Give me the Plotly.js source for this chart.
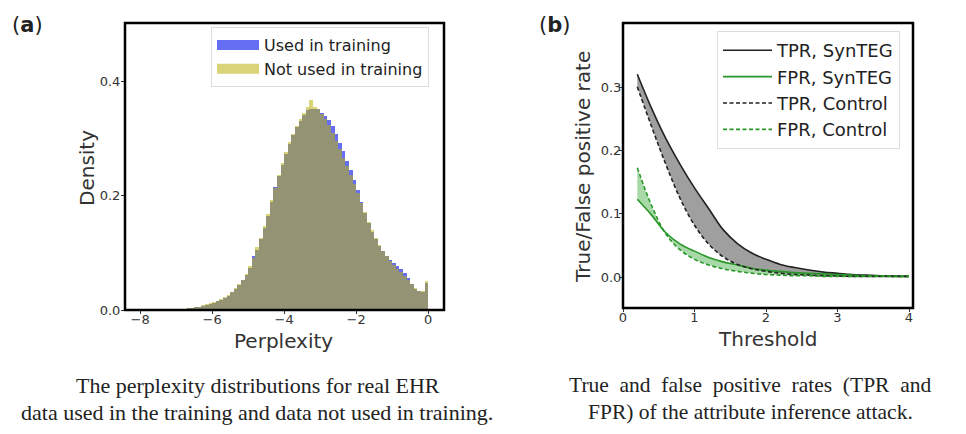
<!DOCTYPE html>
<html>
<head>
<meta charset="utf-8">
<script src="https://cdn.plot.ly/plotly-3.0.1.min.js"></script>
<style>html,body{margin:0;padding:0;background:#fff;} #chart{width:966px;height:434px;}</style>
</head>
<body>
<div id="chart"></div>
<script>
// ---------- Panel (a): perplexity histograms (bin width 0.1) ----------
const binCenters = [
 -7.95,-7.85,-7.75,-7.65,-7.55,-7.45,-7.35,-7.25,-7.15,-7.05,
 -6.95,-6.85,-6.75,-6.65,-6.55,-6.45,-6.35,-6.25,-6.15,-6.05,
 -5.95,-5.85,-5.75,-5.65,-5.55,-5.45,-5.35,-5.25,-5.15,-5.05,
 -4.95,-4.85,-4.75,-4.65,-4.55,-4.45,-4.35,-4.25,-4.15,-4.05,
 -3.95,-3.85,-3.75,-3.65,-3.55,-3.45,-3.35,-3.25,-3.15,-3.05,
 -2.95,-2.85,-2.75,-2.65,-2.55,-2.45,-2.35,-2.25,-2.15,-2.05,
 -1.95,-1.85,-1.75,-1.65,-1.55,-1.45,-1.35,-1.25,-1.15,-1.05,
 -0.95,-0.85,-0.75,-0.65,-0.55,-0.45,-0.35,-0.25,-0.15,-0.05
];
const usedInTraining = [
 0,0,0,0,0,0.0005,0.0005,0.001,0.001,0.001,
 0.0015,0.002,0.0025,0.003,0.004,0.005,0.006,0.007,0.009,0.011,
 0.013,0.015,0.018,0.021,0.025,0.031,0.037,0.044,0.052,0.062,
 0.074,0.094,0.106,0.124,0.144,0.165,0.190,0.216,0.234,0.255,
 0.274,0.291,0.306,0.320,0.331,0.342,0.350,0.352,0.352,0.352,
 0.345,0.340,0.333,0.322,0.309,0.293,0.278,0.262,0.245,0.228,
 0.210,0.189,0.170,0.152,0.137,0.124,0.113,0.103,0.095,0.088,
 0.082,0.077,0.071,0.064,0.056,0.046,0.037,0.033,0.032,0.048
];
const notUsedInTraining = [
 0,0,0,0,0,0.0005,0.0005,0.001,0.001,0.001,
 0.0015,0.002,0.0025,0.003,0.004,0.005,0.006,0.008,0.010,0.012,
 0.014,0.016,0.019,0.022,0.026,0.032,0.038,0.045,0.053,0.063,
 0.077,0.092,0.110,0.127,0.147,0.168,0.192,0.214,0.237,0.258,
 0.277,0.294,0.309,0.322,0.334,0.346,0.356,0.368,0.356,0.352,
 0.343,0.335,0.325,0.311,0.296,0.282,0.267,0.252,0.236,0.220,
 0.205,0.187,0.171,0.155,0.140,0.126,0.114,0.103,0.094,0.086,
 0.079,0.072,0.066,0.060,0.053,0.045,0.038,0.034,0.033,0.050
];
const histTickVals = [-8,-6,-4,-2,0];
const histTickText = ['\u22128','\u22126','\u22124','\u22122','0'];
const densTickVals = [0,0.2,0.4];
const densTickText = ['0.0','0.2','0.4'];

// ---------- Panel (b): attribute inference attack ----------
const threshold  = [0.2,0.4,0.6,0.8,1.0,1.2,1.4,1.6,1.8,2.0,2.2,2.4,2.6,2.8,3.0,3.2,3.4,3.6,3.8,4.0];
const tprSynTEG  = [0.321,0.267,0.219,0.178,0.141,0.108,0.075,0.053,0.038,0.028,0.020,0.015,0.011,0.008,0.006,0.004,0.003,0.002,0.0015,0.001];
const tprControl = [0.301,0.238,0.178,0.124,0.082,0.052,0.032,0.020,0.013,0.009,0.006,0.004,0.003,0.002,0.0015,0.001,0.001,0.001,0.001,0.001];
const fprSynTEG  = [0.123,0.098,0.070,0.052,0.041,0.031,0.024,0.019,0.014,0.011,0.009,0.007,0.006,0.005,0.004,0.003,0.002,0.002,0.001,0.001];
const fprControl = [0.173,0.113,0.068,0.043,0.028,0.019,0.013,0.009,0.006,0.004,0.003,0.002,0.002,0.001,0.001,0.001,0.001,0.001,0.001,0.001];
const thrTickVals = [0,1,2,3,4];
const rateTickVals = [0,0.1,0.2,0.3];
const rateTickText = ['0.0','0.1','0.2','0.3'];

const BLUE = 'rgba(0,15,235,0.6)';
const YELLOW = 'rgba(185,177,10,0.55)';
const BLACK = '#222222';
const GREEN = 'rgb(40,150,40)';

const traces = [
  {type:'bar', x:binCenters, y:usedInTraining, width:0.1, marker:{color:BLUE, line:{width:0}}, showlegend:false, xaxis:'x', yaxis:'y'},
  {type:'bar', x:binCenters, y:notUsedInTraining, width:0.1, marker:{color:YELLOW, line:{width:0}}, showlegend:false, xaxis:'x', yaxis:'y'},
  // legend swatches for panel (a)
  {type:'scatter', mode:'lines', x:[null], y:[null], name:'Used in training', line:{color:BLUE, width:11}, xaxis:'x', yaxis:'y', legend:'legend', legendrank:1},
  {type:'scatter', mode:'lines', x:[null], y:[null], name:'Not used in training', line:{color:YELLOW, width:11}, xaxis:'x', yaxis:'y', legend:'legend', legendrank:2},
  // fills for panel (b)
  {type:'scatter', mode:'lines', x:threshold, y:tprSynTEG, line:{width:0, shape:'spline'}, showlegend:false, hoverinfo:'skip', xaxis:'x2', yaxis:'y2'},
  {type:'scatter', mode:'lines', x:threshold, y:tprControl, line:{width:0, shape:'spline'}, fill:'tonexty', fillcolor:'rgba(100,100,100,0.62)', showlegend:false, hoverinfo:'skip', xaxis:'x2', yaxis:'y2'},
  {type:'scatter', mode:'lines', x:threshold, y:fprSynTEG, line:{width:0, shape:'spline'}, showlegend:false, hoverinfo:'skip', xaxis:'x2', yaxis:'y2'},
  {type:'scatter', mode:'lines', x:threshold, y:fprControl, line:{width:0, shape:'spline'}, fill:'tonexty', fillcolor:'rgba(40,160,40,0.4)', showlegend:false, hoverinfo:'skip', xaxis:'x2', yaxis:'y2'},
  // lines for panel (b)
  {type:'scatter', mode:'lines', x:threshold, y:tprSynTEG, name:'TPR, SynTEG', line:{color:BLACK, width:1.6, shape:'spline'}, xaxis:'x2', yaxis:'y2', legend:'legend2', legendrank:1},
  {type:'scatter', mode:'lines', x:threshold, y:fprSynTEG, name:'FPR, SynTEG', line:{color:GREEN, width:1.6, shape:'spline'}, xaxis:'x2', yaxis:'y2', legend:'legend2', legendrank:2},
  {type:'scatter', mode:'lines', x:threshold, y:tprControl, name:'TPR, Control', line:{color:BLACK, width:1.6, dash:'4px,2.5px', shape:'spline'}, xaxis:'x2', yaxis:'y2', legend:'legend2', legendrank:3},
  {type:'scatter', mode:'lines', x:threshold, y:fprControl, name:'FPR, Control', line:{color:GREEN, width:1.6, dash:'4px,2.5px', shape:'spline'}, xaxis:'x2', yaxis:'y2', legend:'legend2', legendrank:4}
];

const axisCommon = {
  showline:false, ticks:'outside', ticklen:3, tickwidth:1, tickcolor:'#333',
  showgrid:false, zeroline:false, tickfont:{size:13, color:'#333'}
};
const W = 966, H = 434;
const px = v => v / W;
const py = v => 1 - v / H;
const ann = (x, y, text, font, extra) => Object.assign({xref:'paper', yref:'paper', x:px(x), y:py(y), text:text,
  showarrow:false, xanchor:'center', yanchor:'middle', font:font}, extra || {});
const TITLE_FONT = {family:'DejaVu Sans', size:20, color:'#333'};
const CAP_FONT_L = {family:'Liberation Serif', size:22, color:'#222'};
const CAP_FONT_R = {family:'Liberation Serif', size:21.5, color:'#222'};
const frame = (xr, yr) => ({type:'rect', xref:xr + ' domain', yref:yr + ' domain', x0:0, x1:1, y0:0, y1:1,
  line:{color:'black', width:2.5}, layer:'above'});

const layout = {
  width:W, height:H, margin:{l:0,r:0,t:0,b:0},
  paper_bgcolor:'white', plot_bgcolor:'white',
  font:{family:'DejaVu Sans', color:'#222'},
  barmode:'overlay', bargap:0,
  xaxis:Object.assign({}, axisCommon, {domain:[px(125), px(444)], range:[-8.42,0.44], tickvals:histTickVals, ticktext:histTickText, anchor:'y', ticklabelstandoff:-6}),
  yaxis:Object.assign({}, axisCommon, {domain:[py(310), py(23)], range:[0,0.503], tickvals:densTickVals, ticktext:densTickText, anchor:'x', ticklabelstandoff:-2}),
  xaxis2:Object.assign({}, axisCommon, {domain:[px(623), px(913)], range:[0,4.056], tickvals:thrTickVals, anchor:'y2', ticklabelstandoff:-6}),
  yaxis2:Object.assign({}, axisCommon, {domain:[py(308), py(23)], range:[-0.049,0.402], tickvals:rateTickVals, ticktext:rateTickText, anchor:'x2', ticklabelstandoff:-5}),
  legend:{x:px(211), y:py(27), xanchor:'left', yanchor:'top', bgcolor:'rgba(255,255,255,0.85)', traceorder:'normal',
          bordercolor:'#dddddd', borderwidth:1, font:{size:16, color:'#222'}, itemwidth:42},
  legend2:{x:px(717), y:py(31), xanchor:'left', yanchor:'top', bgcolor:'rgba(255,255,255,0.85)', traceorder:'normal',
          bordercolor:'#dddddd', borderwidth:1, font:{size:18, color:'#222'}, itemwidth:49},
  shapes:[frame('x','y'), frame('x2','y2')],
  annotations:[
    ann(27, 25, '(<b>a</b>)', {size:21, color:'#222'}),
    ann(554, 25, '(<b>b</b>)', {size:21, color:'#222'}),
    ann(283, 341, 'Perplexity', TITLE_FONT),
    ann(87, 168, 'Density', TITLE_FONT, {textangle:-90}),
    ann(768, 339, 'Threshold', TITLE_FONT),
    ann(583, 167, 'True/False positive rate', TITLE_FONT, {textangle:-90}),
    ann(258, 385, 'The perplexity distributions for real EHR', CAP_FONT_L),
    ann(257, 412, 'data used in the training and data not used in training.', CAP_FONT_L),
    ann(750, 385, 'True\u00a0\u00a0and\u00a0\u00a0false\u00a0\u00a0positive\u00a0\u00a0rates\u00a0\u00a0(TPR\u00a0\u00a0and', CAP_FONT_R),
    ann(750, 412, 'FPR) of the attribute inference attack.', CAP_FONT_R)
  ]
};

Plotly.newPlot('chart', traces, layout, {staticPlot:true, displayModeBar:false});
</script>
</body>
</html>
